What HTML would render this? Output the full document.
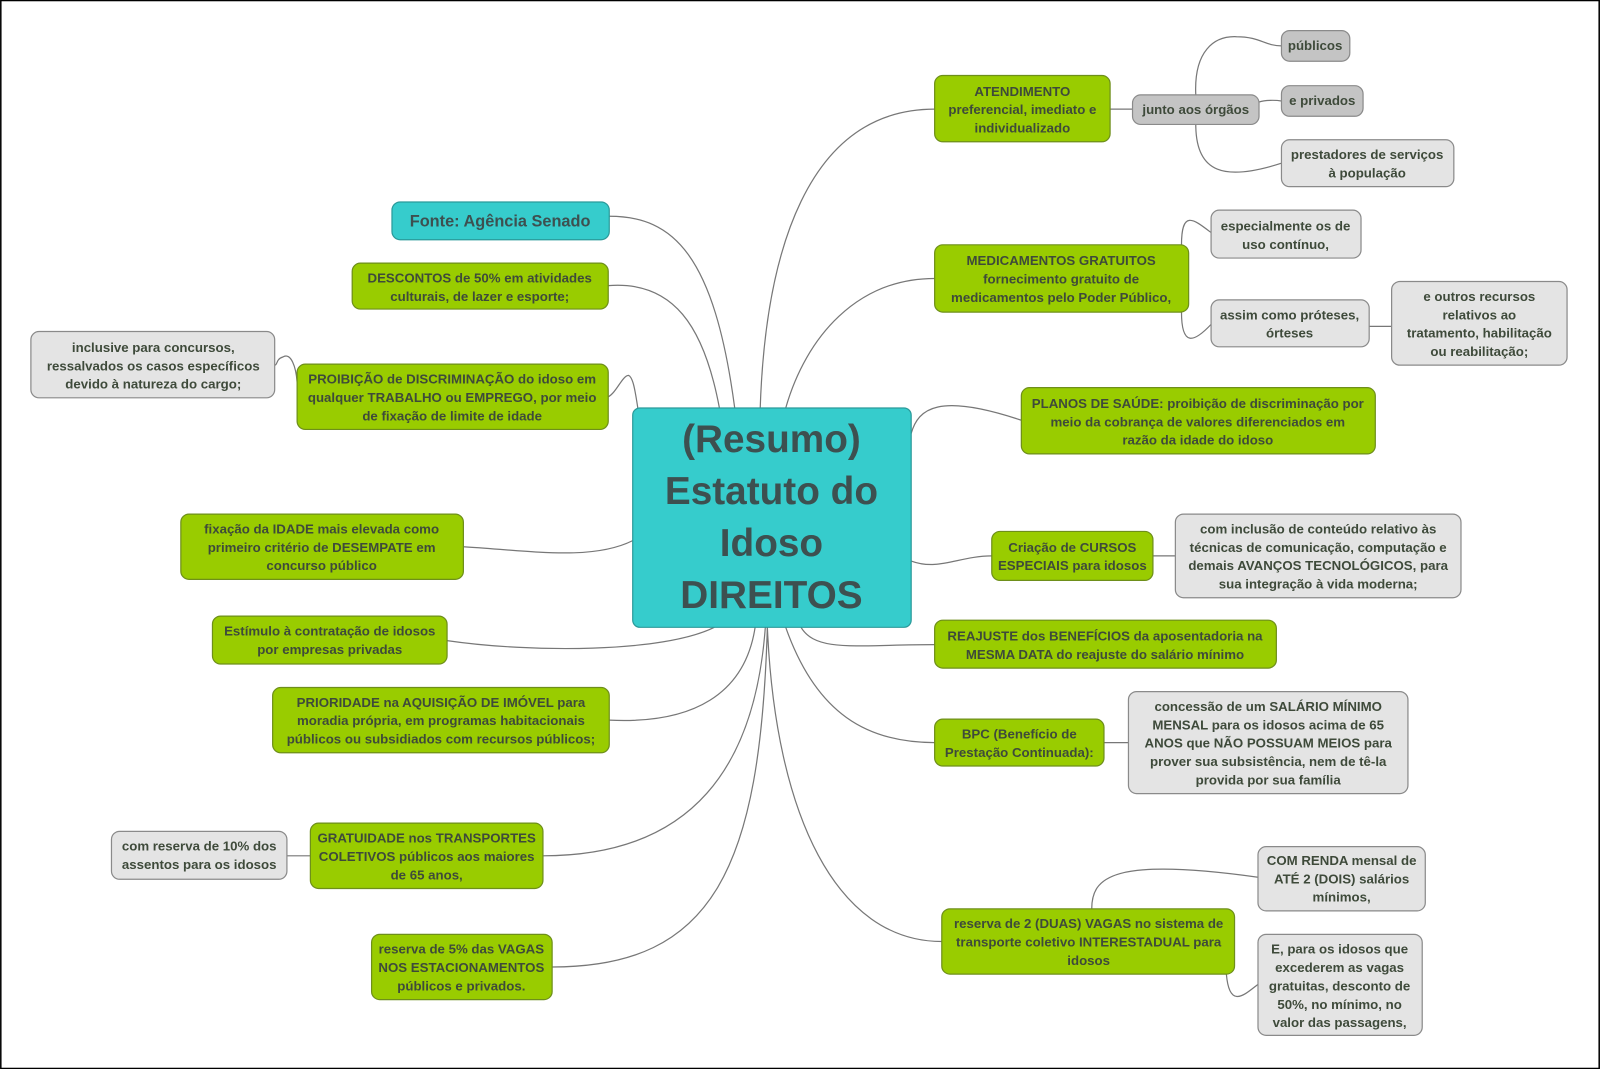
<!DOCTYPE html>
<html><head><meta charset="utf-8"><style>
html,body{margin:0;padding:0;background:#fff}
svg{display:block}
text{font-family:"Liberation Sans",sans-serif;font-weight:bold;font-size:13px;fill:#3e4a3a;text-anchor:middle}
.g{fill:#99cc00;stroke:#6e8f1a;stroke-width:1.2}
.d{fill:#c4c4c4;stroke:#8a8a8a;stroke-width:1.2}
.l{fill:#e4e4e4;stroke:#8a8a8a;stroke-width:1.2}
.t{fill:#36cccc;stroke:#2a9a9a;stroke-width:1.2}
path{fill:none;stroke:#777;stroke-width:1.2}
</style></head><body>
<svg width="1600" height="1069" viewBox="0 0 1568 1048" xmlns="http://www.w3.org/2000/svg">
<rect x="0.5" y="0.5" width="1567" height="1047" fill="#fff" stroke="#000" stroke-width="1.5"/>
<!-- connectors -->
<path d="M745 400 C750 250 790 107 916 107"/>
<path d="M770 400 C790 330 840 273 916 273"/>
<path d="M893 425 C900 400 920 385 1001 412"/>
<path d="M893 550 C920 560 940 545 972 545"/>
<path d="M785 615 C800 640 840 632 916 632"/>
<path d="M770 615 C800 700 850 728 916 728"/>
<path d="M752 615 C760 800 820 923 923 923"/>
<path d="M720 400 C700 250 660 212 597 212"/>
<path d="M705 400 C690 320 660 275 596 280"/>
<path d="M625 400 C622 380 620 370 616 368 C610 368 604 385 596 389"/>
<path d="M620 530 C580 550 520 540 454 536"/>
<path d="M700 615 C650 640 520 640 438 628"/>
<path d="M740 615 C730 680 680 710 597 706"/>
<path d="M750 615 C740 750 680 839 532 839"/>
<path d="M752 615 C745 850 700 948 541 948"/>
<path d="M1088 107 L1110 107"/>
<path d="M1172 93 C1170 50 1190 35 1212 36 C1235 36 1240 45 1256 45"/>
<path d="M1234 100 C1240 98 1250 98 1256 99"/>
<path d="M1172 122 C1172 170 1200 178 1256 160"/>
<path d="M1158 240 C1158 205 1170 215 1187 228"/>
<path d="M1158 306 C1158 340 1170 336 1187 318"/>
<path d="M1342 320 L1364 320"/>
<path d="M1130 545 L1152 545"/>
<path d="M1082 728 L1106 728"/>
<path d="M1070 891 C1070 860 1090 840 1233 860"/>
<path d="M1202 955 C1205 990 1220 975 1233 965"/>
<path d="M291 375 C290 360 285 345 277 350 C270 352 272 358 269 358"/>
<path d="M304 839 L281 839"/>
<!-- center -->
<rect class="t" x="620" y="400" width="273" height="215" rx="7"/>
<text style="font-size:38px;fill:#3d5050" x="756" y="443">(Resumo)<tspan x="756" dy="51">Estatuto do</tspan><tspan x="756" dy="51">Idoso</tspan><tspan x="756" dy="51">DIREITOS</tspan></text>
<!-- right -->
<rect class="g" x="916" y="74" width="172" height="65" rx="8"/><text x="1002" y="94">ATENDIMENTO<tspan x="1002" dy="18">preferencial, imediato e</tspan><tspan x="1002" dy="18">individualizado</tspan></text>
<rect class="d" x="1110" y="93" width="124" height="29" rx="8"/><text x="1172" y="112">junto aos órgãos</text>
<rect class="d" x="1256" y="30" width="67" height="30" rx="8"/><text x="1289" y="49">públicos</text>
<rect class="d" x="1256" y="84" width="80" height="30" rx="8"/><text x="1296" y="103">e privados</text>
<rect class="l" x="1256" y="137" width="169" height="46" rx="8"/><text x="1340" y="156">prestadores de serviços<tspan x="1340" dy="18">à população</tspan></text>
<rect class="g" x="916" y="240" width="249" height="66" rx="8"/><text x="1040" y="260">MEDICAMENTOS GRATUITOS<tspan x="1040" dy="18">fornecimento gratuito de</tspan><tspan x="1040" dy="18">medicamentos pelo Poder Público,</tspan></text>
<rect class="l" x="1187" y="206" width="147" height="47" rx="8"/><text x="1260" y="226">especialmente os de<tspan x="1260" dy="18">uso contínuo,</tspan></text>
<rect class="l" x="1187" y="294" width="155" height="46" rx="8"/><text x="1264" y="313">assim como próteses,<tspan x="1264" dy="18">órteses</tspan></text>
<rect class="l" x="1364" y="276" width="172" height="82" rx="8"/><text x="1450" y="295">e outros recursos<tspan x="1450" dy="18">relativos ao</tspan><tspan x="1450" dy="18">tratamento, habilitação</tspan><tspan x="1450" dy="18">ou reabilitação;</tspan></text>
<rect class="g" x="1001" y="380" width="347" height="65" rx="8"/><text x="1174" y="400">PLANOS DE SAÚDE: proibição de discriminação por<tspan x="1174" dy="18">meio da cobrança de valores diferenciados em</tspan><tspan x="1174" dy="18">razão da idade do idoso</tspan></text>
<rect class="g" x="972" y="521" width="158" height="48" rx="8"/><text x="1051" y="541">Criação de CURSOS<tspan x="1051" dy="18">ESPECIAIS para idosos</tspan></text>
<rect class="l" x="1152" y="504" width="280" height="82" rx="8"/><text x="1292" y="523">com inclusão de conteúdo relativo às<tspan x="1292" dy="18">técnicas de comunicação, computação e</tspan><tspan x="1292" dy="18">demais AVANÇOS TECNOLÓGICOS, para</tspan><tspan x="1292" dy="18">sua integração à vida moderna;</tspan></text>
<rect class="g" x="916" y="608" width="335" height="47" rx="8"/><text x="1083" y="628">REAJUSTE dos BENEFÍCIOS da aposentadoria na<tspan x="1083" dy="18">MESMA DATA do reajuste do salário mínimo</tspan></text>
<rect class="g" x="916" y="705" width="166" height="46" rx="8"/><text x="999" y="724">BPC (Benefício de<tspan x="999" dy="18">Prestação Continuada):</tspan></text>
<rect class="l" x="1106" y="678" width="274" height="100" rx="8"/><text x="1243" y="697">concessão de um SALÁRIO MÍNIMO<tspan x="1243" dy="18">MENSAL para os idosos acima de 65</tspan><tspan x="1243" dy="18">ANOS que NÃO POSSUAM MEIOS para</tspan><tspan x="1243" dy="18">prover sua subsistência, nem de tê-la</tspan><tspan x="1243" dy="18">provida por sua família</tspan></text>
<rect class="g" x="923" y="891" width="287" height="64" rx="8"/><text x="1067" y="910">reserva de 2 (DUAS) VAGAS no sistema de<tspan x="1067" dy="18">transporte coletivo INTERESTADUAL para</tspan><tspan x="1067" dy="18">idosos</tspan></text>
<rect class="l" x="1233" y="830" width="164" height="63" rx="8"/><text x="1315" y="848">COM RENDA mensal de<tspan x="1315" dy="18">ATÉ 2 (DOIS) salários</tspan><tspan x="1315" dy="18">mínimos,</tspan></text>
<rect class="l" x="1233" y="916" width="161" height="99" rx="8"/><text x="1313" y="935">E, para os idosos que<tspan x="1313" dy="18">excederem as vagas</tspan><tspan x="1313" dy="18">gratuitas, desconto de</tspan><tspan x="1313" dy="18">50%, no mínimo, no</tspan><tspan x="1313" dy="18">valor das passagens,</tspan></text>
<!-- left -->
<rect class="t" x="384" y="198" width="213" height="37" rx="8"/><text style="font-size:16px;fill:#3d5050" x="490" y="222">Fonte: Agência Senado</text>
<rect class="g" x="345" y="258" width="251" height="45" rx="8"/><text x="470" y="277">DESCONTOS de 50% em atividades<tspan x="470" dy="18">culturais, de lazer e esporte;</tspan></text>
<rect class="l" x="30" y="325" width="239" height="65" rx="8"/><text x="150" y="345">inclusive para concursos,<tspan x="150" dy="18">ressalvados os casos específicos</tspan><tspan x="150" dy="18">devido à natureza do cargo;</tspan></text>
<rect class="g" x="291" y="357" width="305" height="64" rx="8"/><text x="443" y="376">PROIBIÇÃO de DISCRIMINAÇÃO do idoso em<tspan x="443" dy="18">qualquer TRABALHO ou EMPREGO, por meio</tspan><tspan x="443" dy="18">de fixação de limite de idade</tspan></text>
<rect class="g" x="177" y="504" width="277" height="64" rx="8"/><text x="315" y="523">fixação da IDADE mais elevada como<tspan x="315" dy="18">primeiro critério de DESEMPATE em</tspan><tspan x="315" dy="18">concurso público</tspan></text>
<rect class="g" x="208" y="604" width="230" height="47" rx="8"/><text x="323" y="623">Estímulo à contratação de idosos<tspan x="323" dy="18">por empresas privadas</tspan></text>
<rect class="g" x="267" y="674" width="330" height="64" rx="8"/><text x="432" y="693">PRIORIDADE na AQUISIÇÃO DE IMÓVEL para<tspan x="432" dy="18">moradia própria, em programas habitacionais</tspan><tspan x="432" dy="18">públicos ou subsidiados com recursos públicos;</tspan></text>
<rect class="g" x="304" y="807" width="228" height="64" rx="8"/><text x="418" y="826">GRATUIDADE nos TRANSPORTES<tspan x="418" dy="18">COLETIVOS públicos aos maiores</tspan><tspan x="418" dy="18">de 65 anos,</tspan></text>
<rect class="l" x="109" y="815" width="172" height="47" rx="8"/><text x="195" y="834">com reserva de 10% dos<tspan x="195" dy="18">assentos para os idosos</tspan></text>
<rect class="g" x="364" y="916" width="177" height="64" rx="8"/><text x="452" y="935">reserva de 5% das VAGAS<tspan x="452" dy="18">NOS ESTACIONAMENTOS</tspan><tspan x="452" dy="18">públicos e privados.</tspan></text>
</svg>
</body></html>
